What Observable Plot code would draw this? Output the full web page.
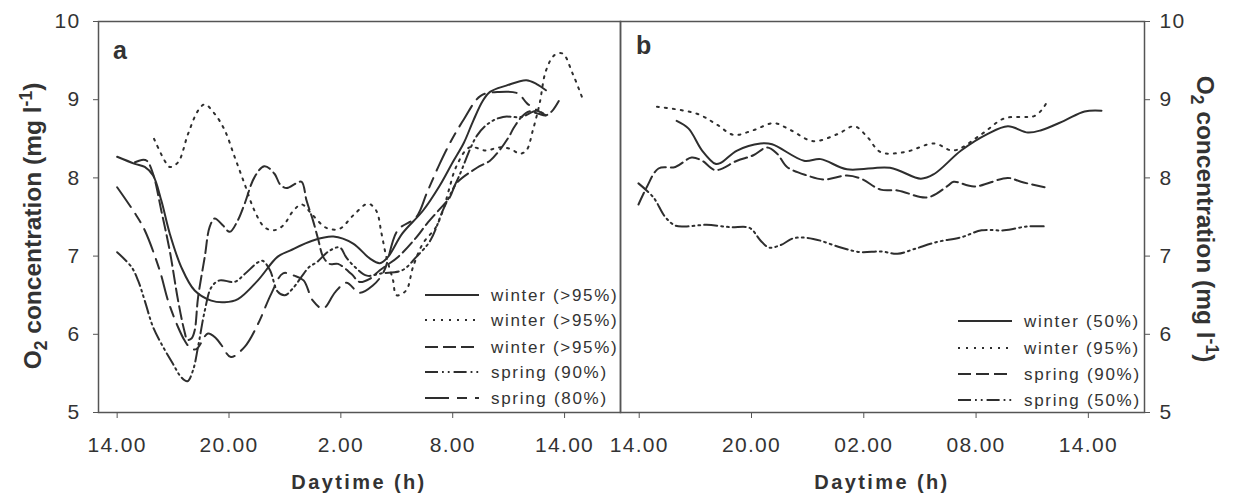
<!DOCTYPE html>
<html>
<head>
<meta charset="utf-8">
<script src="https://cdn.jsdelivr.net/npm/d3@7"></script>
<script src="https://cdn.jsdelivr.net/npm/@observablehq/plot@0.6"></script>
<style>
  html, body { margin: 0; padding: 0; background: #fff; }
  #wrap { position: relative; width: 1237px; height: 498px; overflow: hidden; }
  #wrap svg { position: absolute; top: 0; overflow: visible; }
  #wrap svg text { letter-spacing: 1.3px; }
</style>
</head>
<body>
<div id="wrap"></div>
<script>
// ---- data: [hour (14 = 14.00 day 1, 38 = 14.00 day 2), O2 mg/l] ----
const xTicks = [14, 20, 26, 32, 38];
const xLabelsA = ["14.00", "20.00", "2.00", "8.00", "14.00"];
const xLabelsB = ["14.00", "20.00", "02.00", "08.00", "14.00"];
const yTicks = [5, 6, 7, 8, 9, 10];

const legendA = ["winter (>95%)", "winter (>95%)", "winter (>95%)", "spring (90%)", "spring (80%)"];
const legendB = ["winter (50%)", "winter (95%)", "spring (90%)", "spring (50%)"];

// Panel a
const aWinterSolid = [[14.0,8.27],[14.95,8.18],[15.48,8.14],[15.93,8.03],[16.37,7.71],[16.82,7.29],[17.44,6.86],[18.16,6.56],[19.05,6.43],[19.77,6.41],[20.48,6.45],[21.55,6.69],[22.6,6.99],[23.27,7.07],[24.5,7.2],[25.6,7.25],[26.66,7.16],[27.55,6.97],[28.09,6.91],[28.53,6.99],[29.3,7.29],[30.4,7.58],[31.3,7.9],[32.0,8.2],[32.6,8.45],[33.1,8.73],[33.6,8.98],[34.0,9.1],[34.87,9.18],[35.95,9.25],[36.5,9.2],[37.0,9.12]];
const aWinterDotted = [[15.98,8.5],[16.55,8.22],[16.82,8.14],[17.27,8.2],[17.8,8.56],[18.34,8.86],[18.7,8.94],[19.23,8.82],[19.77,8.61],[20.3,8.27],[20.84,7.92],[21.37,7.58],[21.9,7.37],[22.4,7.33],[22.9,7.39],[23.45,7.58],[23.9,7.66],[24.5,7.52],[25.23,7.36],[25.94,7.35],[26.66,7.52],[27.46,7.67],[27.9,7.58],[28.18,7.29],[28.44,6.99],[28.8,6.69],[28.98,6.5],[29.5,6.56],[29.87,6.86],[30.4,7.16],[31.1,7.37],[31.5,7.6],[31.8,7.85],[32.2,8.15],[32.9,8.39],[33.8,8.35],[34.5,8.39],[35.1,8.37],[35.6,8.31],[35.95,8.35],[36.3,8.61],[36.66,8.95],[37.0,9.37],[37.46,9.57],[37.9,9.59],[38.44,9.33],[38.94,9.03]];
const aWinterDashed = [[14.96,8.2],[15.32,8.23],[15.59,8.22],[15.93,8.05],[16.37,7.58],[16.82,7.07],[17.27,6.43],[17.6,6.05],[17.77,5.93],[18.0,5.95],[18.16,6.05],[18.34,6.47],[18.7,6.99],[18.96,7.37],[19.23,7.48],[19.68,7.39],[20.04,7.31],[20.48,7.46],[20.84,7.67],[21.37,8.01],[21.9,8.15],[22.45,8.05],[22.73,7.92],[23.09,7.87],[23.6,7.93],[23.9,7.95],[24.16,7.71],[24.5,7.46],[24.8,7.2],[25.05,6.99],[25.4,6.9],[25.85,6.9],[26.57,6.77],[27.0,6.67],[27.55,6.71],[28.09,6.82],[29.07,6.99],[30.05,7.24],[30.6,7.41],[31.3,7.6],[31.84,7.75],[32.2,7.93],[33.3,8.13],[34.0,8.22],[34.5,8.35],[35.0,8.52],[35.3,8.65],[35.7,8.78],[36.1,8.85],[36.6,8.82],[37.0,8.8],[37.35,8.86],[37.8,9.03]];
const aSpring90 = [[14.0,7.05],[14.77,6.86],[15.12,6.69],[15.48,6.43],[15.93,6.09],[16.37,5.88],[17.0,5.62],[17.44,5.45],[17.77,5.4],[18.07,5.54],[18.34,5.84],[18.7,6.3],[19.05,6.6],[19.5,6.69],[20.3,6.67],[20.84,6.77],[21.55,6.92],[21.8,6.94],[22.2,6.82],[22.6,6.55],[23.0,6.5],[23.4,6.58],[24.3,6.86],[24.7,6.92],[25.4,7.07],[25.94,7.11],[26.3,6.98],[26.8,6.85],[27.4,6.75],[28.2,6.78],[29.3,6.82],[30.05,6.99],[30.8,7.2],[31.5,7.6],[32.3,8.0],[33.3,8.54],[34.0,8.71],[34.7,8.78],[35.7,8.78],[36.5,8.86],[37.0,8.8]];
const aSpring80 = [[14.0,7.88],[15.03,7.52],[15.48,7.33],[16.28,6.82],[16.73,6.43],[17.27,6.09],[17.62,5.92],[17.95,5.82],[18.25,5.81],[18.87,6.01],[19.3,5.95],[19.6,5.86],[20.1,5.71],[20.84,5.84],[21.55,6.13],[22.27,6.52],[22.9,6.78],[23.5,6.75],[24.0,6.69],[24.5,6.43],[25.05,6.33],[25.7,6.54],[26.3,6.66],[27.0,6.53],[27.7,6.62],[28.3,6.8],[29.05,7.33],[30.05,7.5],[30.6,7.8],[31.3,8.18],[31.84,8.44],[32.6,8.75],[33.5,9.05],[34.5,9.1],[35.5,9.08],[36.0,8.95],[37.0,8.8]];

// Panel b
const bWinter50 = [[16.0,8.73],[16.64,8.63],[17.36,8.35],[18.07,8.18],[18.34,8.19],[19.23,8.35],[20.48,8.44],[21.1,8.43],[22.8,8.22],[23.7,8.24],[25.1,8.11],[27.4,8.13],[29.05,7.99],[29.76,8.05],[31.2,8.35],[32.6,8.56],[33.7,8.66],[34.77,8.58],[35.48,8.61],[36.7,8.73],[37.8,8.85],[38.7,8.86]];
const bWinter95 = [[14.95,8.91],[17.09,8.82],[18.16,8.68],[19.05,8.55],[20.1,8.61],[21.2,8.7],[22.1,8.61],[23.3,8.47],[24.6,8.56],[25.5,8.66],[26.2,8.52],[26.9,8.33],[28.2,8.33],[29.76,8.44],[30.8,8.35],[32.3,8.56],[33.5,8.76],[34.77,8.78],[35.1,8.79],[35.48,8.86],[35.84,8.99]];
const bSpring90 = [[13.96,7.66],[14.4,7.88],[15.03,8.12],[15.93,8.14],[16.8,8.26],[17.36,8.22],[18.07,8.1],[19.23,8.22],[20.1,8.29],[20.84,8.39],[21.37,8.31],[21.9,8.14],[22.98,8.03],[23.87,7.98],[25.1,8.03],[25.85,7.99],[26.9,7.85],[27.8,7.84],[29.4,7.75],[30.5,7.9],[30.8,7.95],[31.9,7.89],[33.7,8.0],[34.4,7.95],[35.66,7.88]];
const bSpring50 = [[13.96,7.93],[14.76,7.75],[15.39,7.5],[15.93,7.39],[16.55,7.38],[17.6,7.4],[18.87,7.37],[19.9,7.36],[20.48,7.2],[20.93,7.11],[21.55,7.14],[22.27,7.23],[23.3,7.22],[24.77,7.11],[25.84,7.05],[26.9,7.06],[27.8,7.03],[28.7,7.09],[29.9,7.18],[31.2,7.24],[32.3,7.33],[33.5,7.33],[34.77,7.38],[35.66,7.38]];

// ---- styles ----
const INK = "#2e2e2e";
const AXIS = "#555";
const FONT = "'Liberation Sans', Arial, sans-serif";
const DASH = {
  solid: null,
  dotted: "2,6",
  dashed: "13,5",
  dashdotdot: "13,4,1.8,4,1.8,4",
  longshort: "24,8,10,8"
};
const seriesA = [
  {data: aWinterSolid, dash: DASH.solid},
  {data: aWinterDotted, dash: DASH.dotted},
  {data: aWinterDashed, dash: DASH.dashed},
  {data: aSpring90, dash: DASH.dashdotdot},
  {data: aSpring80, dash: DASH.longshort}
];
const seriesB = [
  {data: bWinter50, dash: DASH.solid},
  {data: bWinter95, dash: DASH.dotted},
  {data: bSpring90, dash: DASH.dashed},
  {data: bSpring50, dash: DASH.dashdotdot}
];

function lineMarks(series) {
  return series.map(s => Plot.line(s.data, {
    x: d => d[0], y: d => d[1], curve: "catmull-rom",
    stroke: INK, strokeWidth: 2, strokeDasharray: s.dash
  }));
}

const common = {
  height: 498, marginTop: 21, marginBottom: 86,
  x: {domain: [13, 41]},
  y: {domain: [5, 10]},
  style: {fontFamily: FONT, fontSize: "21px", color: "#333", background: "transparent", overflow: "visible"}
};
const yFmt = d => String(d);

const svgA = Plot.plot({
  ...common, width: 620, marginLeft: 98, marginRight: 0,
  marks: [
    ...lineMarks(seriesA),
    Plot.frame({stroke: AXIS, strokeWidth: 1.5}),
    Plot.axisX(xTicks, {tickFormat: d => xLabelsA[xTicks.indexOf(d)], tickSize: 6, tickPadding: 19, label: null, fontSize: 21, stroke: AXIS}),
    Plot.axisY(yTicks, {anchor: "left", tickFormat: yFmt, tickSize: 5, tickPadding: 13, label: null, fontSize: 21, stroke: AXIS})
  ]
});
const svgB = Plot.plot({
  ...common, width: 617, marginLeft: 0, marginRight: 93,
  marks: [
    ...lineMarks(seriesB),
    Plot.frame({stroke: AXIS, strokeWidth: 1.5}),
    Plot.axisX(xTicks, {tickFormat: d => xLabelsB[xTicks.indexOf(d)], tickSize: 6, tickPadding: 19, label: null, fontSize: 21, stroke: AXIS}),
    Plot.axisY(yTicks, {anchor: "right", tickFormat: yFmt, tickSize: 5, tickPadding: 10, label: null, fontSize: 21, stroke: AXIS})
  ]
});
svgA.style.left = "0px";
svgB.style.left = "620px";
const wrap = document.getElementById("wrap");
wrap.appendChild(svgA);
wrap.appendChild(svgB);

// ---- annotations (titles, panel letters, legends) ----
function addText(svg, x, y, txt, opts = {}) {
  return d3.select(svg).append("text")
    .attr("x", x).attr("y", y)
    .attr("text-anchor", opts.anchor || "start")
    .attr("font-family", FONT)
    .attr("font-size", opts.size || 20)
    .attr("font-weight", opts.weight || "normal")
    .attr("fill", "#333")
    .style("letter-spacing", (opts.spacing ?? 0) + "px")
    .text(txt);
}
function addYLabel(svg, x, y, rot) {
  const t = d3.select(svg).append("text")
    .attr("transform", `translate(${x},${y}) rotate(${rot})`)
    .attr("text-anchor", "middle")
    .attr("font-family", FONT).attr("font-size", 24.5).attr("font-weight", "bold")
    .attr("fill", "#333").style("letter-spacing", "0px");
  t.append("tspan").text("O");
  t.append("tspan").attr("font-size", 17.5).attr("dy", 6).text("2");
  t.append("tspan").attr("dy", -6).text(" concentration (mg l");
  t.append("tspan").attr("font-size", 17.5).attr("dy", -9).text("-1");
  t.append("tspan").attr("dy", 9).text(")");
}

addText(svgA, 359, 489, "Daytime (h)", {anchor: "middle", weight: "bold", size: 20, spacing: 2.4});
addText(svgB, 882 - 620, 489, "Daytime (h)", {anchor: "middle", weight: "bold", size: 20, spacing: 2.4});
addYLabel(svgA, 41, 226, -90);
addYLabel(svgB, 1197 - 620, 219, 90);
addText(svgA, 113, 59, "a", {weight: "bold", size: 25});
addText(svgB, 636 - 620, 54, "b", {weight: "bold", size: 25});

function legend(svg, labels, series, x0, x1, xt, ys) {
  const g = d3.select(svg).append("g");
  labels.forEach((lab, i) => {
    g.append("line").attr("x1", x0).attr("x2", x1).attr("y1", ys[i]).attr("y2", ys[i])
      .attr("stroke", INK).attr("stroke-width", 2)
      .attr("stroke-dasharray", series[i].dash || null);
    g.append("text").attr("x", xt).attr("y", ys[i]).attr("dy", "0.36em")
      .attr("text-anchor", "start")
      .attr("font-family", FONT).attr("font-size", 17).attr("fill", "#333")
      .style("letter-spacing", "1.7px").text(lab);
  });
}
legend(svgA, legendA, seriesA, 425, 479, 491, [295, 320, 347, 372, 398]);
legend(svgB, legendB, seriesB, 958 - 620, 1012 - 620, 1024 - 620, [321, 348, 374, 400]);
</script>
</body>
</html>
